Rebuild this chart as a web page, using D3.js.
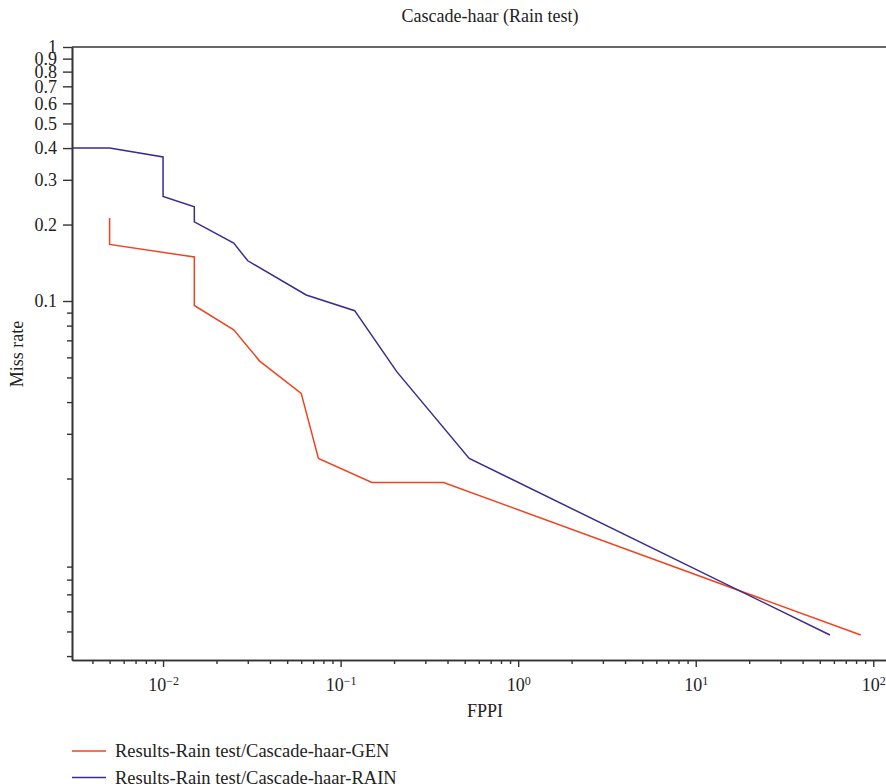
<!DOCTYPE html>
<head>
<meta charset="utf-8">
<title>Cascade-haar (Rain test)</title>
<script src="https://d3js.org/d3.v7.min.js"></script>
<style>
  body { margin: 0; background: #fff; }
  svg { display: block; font-family: "Liberation Serif", "Times New Roman", serif; }
</style>
</head>
<body>
<div id="chart"></div>
<script>

// series values (FPPI, miss rate)
var genFppi = [0.005, 0.005, 0.015, 0.015, 0.025, 0.035, 0.06, 0.075, 0.15, 0.38, 85];
var genMiss = [0.212, 0.167, 0.149, 0.096, 0.077, 0.058, 0.0433, 0.024, 0.0193, 0.0193, 0.00484];

var rainFppi = [0.00307, 0.005, 0.01, 0.01, 0.015, 0.015, 0.025, 0.03, 0.064, 0.12, 0.207, 0.53, 57];
var rainMiss = [0.4, 0.4, 0.369, 0.258, 0.235, 0.205, 0.169, 0.144, 0.1056, 0.0916, 0.0527, 0.024, 0.00484];

var seriesNames = ["Results-Rain test/Cascade-haar-GEN", "Results-Rain test/Cascade-haar-RAIN"];
var seriesColors = ["#f0431f", "#3a2c8e"];

// tick values
var yMajor = [1, 0.9, 0.8, 0.7, 0.6, 0.5, 0.4, 0.3, 0.2, 0.1];
var yMinor = [0.09, 0.08, 0.07, 0.06, 0.05, 0.04, 0.03, 0.02, 0.009, 0.008, 0.007, 0.006, 0.005, 0.004];
var xMajor = [0.01, 0.1, 1, 10, 100];
var xMinor = [0.004, 0.005, 0.006, 0.007, 0.008, 0.009,
  0.02, 0.03, 0.04, 0.05, 0.06, 0.07, 0.08, 0.09,
  0.2, 0.3, 0.4, 0.5, 0.6, 0.7, 0.8, 0.9,
  2, 3, 4, 5, 6, 7, 8, 9,
  20, 30, 40, 50, 60, 70, 80, 90];

var W = 886, H = 784;
var margin = {top: 47, left: 72},
    width = 826,
    height = 613;

var svg = d3.select("#chart")
  .append("svg")
    .attr("width", W)
    .attr("height", H)
  .append("g")
    .attr("transform", "translate(" + margin.left + "," + margin.top + ")");

var x = d3.scaleLog()
  .domain([0.00307, 137.8])
  .range([0, width]);

var y = d3.scaleLog()
  .domain([0.00386, 1])
  .range([height, 0]);

var axisColor = "#333";

// top frame line
svg.append("line")
  .attr("x1", 0).attr("x2", width)
  .attr("y1", 0).attr("y2", 0)
  .style("stroke", axisColor)
  .style("stroke-width", 1.6);

// y axis
var yMinorAxis = svg.append("g")
  .call(d3.axisLeft(y).tickValues(yMinor).tickSize(5).tickSizeOuter(0).tickFormat(""));
var yMajorAxis = svg.append("g")
  .call(d3.axisLeft(y).tickValues(yMajor).tickSize(9).tickSizeOuter(0).tickPadding(6)
    .tickFormat(function(d) { return d === 1 ? "1" : d3.format(".1f")(d); }));

// x axis
var xMinorAxis = svg.append("g")
  .attr("transform", "translate(0," + height + ")")
  .call(d3.axisBottom(x).tickValues(xMinor).tickSize(4).tickSizeOuter(0).tickFormat(""));
var xMajorAxis = svg.append("g")
  .attr("transform", "translate(0," + height + ")")
  .call(d3.axisBottom(x).tickValues(xMajor).tickSize(7).tickSizeOuter(0).tickFormat(""));

[yMinorAxis, yMajorAxis, xMinorAxis, xMajorAxis].forEach(function(g) {
  g.selectAll("path").style("stroke", axisColor).style("stroke-width", 1.6);
  g.selectAll("line").style("stroke", axisColor).style("stroke-width", 1.4);
});
yMajorAxis.selectAll("text")
  .style("font-family", "Liberation Serif, serif")
  .style("font-size", "18px")
  .style("fill", "#222");

// x tick labels as 10^n
xMajorAxis.selectAll(".tick")
  .append("text")
    .attr("y", 31)
    .attr("text-anchor", "middle")
    .style("font-family", "Liberation Serif, serif")
    .style("font-size", "18px")
    .style("fill", "#222")
    .each(function(d) {
      var t = d3.select(this);
      t.append("tspan").text("10");
      t.append("tspan")
        .attr("dy", -6)
        .style("font-size", "12px")
        .text(String(Math.round(Math.log10(d))).replace("-", "\u2212"));
    });

// lines
var line = d3.line()
  .x(function(d) { return x(d[0]); })
  .y(function(d) { return y(d[1]); });

var series = [
  d3.zip(genFppi, genMiss),
  d3.zip(rainFppi, rainMiss)
];

svg.selectAll(".series")
  .data(series)
  .enter()
  .append("path")
    .attr("class", "series")
    .attr("d", line)
    .style("fill", "none")
    .style("stroke", function(d, i) { return seriesColors[i]; })
    .style("stroke-width", 1.5);

// title and axis labels
svg.append("text")
  .attr("x", 490 - margin.left)
  .attr("y", 22 - margin.top)
  .attr("text-anchor", "middle")
  .style("font-size", "18px")
  .style("fill", "#222")
  .text("Cascade-haar (Rain test)");

svg.append("text")
  .attr("x", width / 2)
  .attr("y", 717 - margin.top)
  .attr("text-anchor", "middle")
  .style("font-size", "18px")
  .style("fill", "#222")
  .text("FPPI");

svg.append("text")
  .attr("transform", "translate(" + (23 - margin.left) + "," + (354 - margin.top) + ")rotate(-90)")
  .attr("text-anchor", "middle")
  .style("font-size", "18px")
  .style("fill", "#222")
  .text("Miss rate");

// legend
var legend = svg.selectAll(".legend")
  .data(seriesNames)
  .enter()
  .append("g")
    .attr("class", "legend")
    .attr("transform", function(d, i) { return "translate(0," + (751 - margin.top + i * 26.5) + ")"; });

legend.append("line")
  .attr("x1", 0).attr("x2", 34)
  .attr("y1", 0).attr("y2", 0)
  .style("stroke", function(d, i) { return seriesColors[i]; })
  .style("stroke-width", 1.5);

legend.append("text")
  .attr("x", 43)
  .attr("y", 6)
  .style("font-size", "18.5px")
  .style("fill", "#222")
  .text(function(d) { return d; });

</script>
</body>
